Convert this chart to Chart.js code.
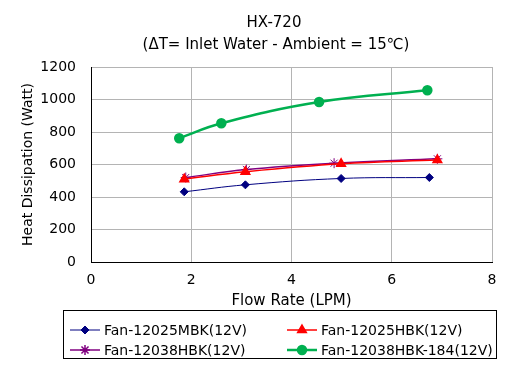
<!doctype html>
<html lang="en">
  <head>
    <meta charset="UTF-8" />
    <title>HX-720</title>
    <script src="https://cdn.jsdelivr.net/npm/chart.js"></script>
    <style>
      body {
        margin: 0;
        padding: 0;
        background: #fff;
      }
      #wrap {
        width: 507px;
        height: 365px;
      }
    </style>
  </head>
  <body>
    <div id="wrap"><canvas id="hxChart"></canvas></div>
    <script>
      // values
      const seriesNames = [
        "Fan-12025MBK(12V)",
        "Fan-12025HBK(12V)",
        "Fan-12038HBK(12V)",
        "Fan-12038HBK-184(12V)",
      ];
      const mbkFlow = [1.86, 3.08, 4.99, 6.75];
      const mbkHeat = [432, 475, 514, 520];
      const hbkFlow = [1.86, 3.08, 4.99, 6.91];
      const hbkHeat = [510, 555, 604, 627];
      const hbk38Flow = [1.89, 3.1, 4.85, 6.91];
      const hbk38Heat = [520, 569, 608, 635];
      const hbk184Flow = [1.76, 2.6, 4.55, 6.71];
      const hbk184Heat = [762, 854, 985, 1057];
      const xTicks = [0, 2, 4, 6, 8];
      const yTicks = [0, 200, 400, 600, 800, 1000, 1200];
      const titleLines = ["HX-720", "(ΔT= Inlet Water - Ambient = 15℃)"];

      const FONT = "'DejaVu Sans', sans-serif";

      function pts(xs, ys) {
        return xs.map((x, i) => ({ x: x, y: ys[i] }));
      }

      // title sits a little right of the canvas centre in the original
      const offTitle = {
        id: "offTitle",
        afterDraw(chart) {
          const ctx = chart.ctx;
          ctx.save();
          ctx.font = "15px " + FONT;
          ctx.fillStyle = "#000";
          ctx.textAlign = "center";
          ctx.textBaseline = "middle";
          ctx.fillText(titleLines[0], 274, 23);
          ctx.fillText(titleLines[1], 276, 45);
          ctx.restore();
        },
      };

      // boxed two-column legend like the original
      const boxLegend = {
        id: "boxLegend",
        afterDraw(chart) {
          const ctx = chart.ctx;
          ctx.save();
          ctx.strokeStyle = "#000";
          ctx.lineWidth = 1;
          ctx.strokeRect(63.5, 310.5, 433, 48);
          ctx.font = "14px " + FONT;
          ctx.textBaseline = "middle";
          ctx.fillStyle = "#000";
          const cols = [70, 287];
          const rows = [330, 350];
          chart.data.datasets.forEach((ds, i) => {
            const x = cols[i % 2];
            const y = rows[Math.floor(i / 2)];
            ctx.strokeStyle = ds.borderColor;
            ctx.lineWidth = ds.borderWidth;
            ctx.beginPath();
            ctx.moveTo(x, y);
            ctx.lineTo(x + 30, y);
            ctx.stroke();
            ctx.fillStyle = ds.pointBackgroundColor;
            ctx.strokeStyle = ds.pointBorderColor;
            Chart.helpers.drawPoint(
              ctx,
              {
                pointStyle: ds.pointStyle,
                radius: ds.pointRadius,
                rotation: 0,
                borderWidth: 1,
              },
              x + 15,
              y,
            );
            ctx.fillStyle = "#000";
            ctx.fillText(ds.label, x + 34, y + 1);
          });
          ctx.restore();
        },
      };

      const ctx = document.getElementById("hxChart").getContext("2d");
      new Chart(ctx, {
        type: "line",
        data: {
          datasets: [
            {
              label: seriesNames[0],
              data: pts(mbkFlow, mbkHeat),
              borderColor: "#000080",
              borderWidth: 1,
              pointStyle: "rectRot",
              pointRadius: 4,
              pointBackgroundColor: "#000080",
              pointBorderColor: "#000080",
              tension: 0.4,
            },
            {
              label: seriesNames[1],
              data: pts(hbkFlow, hbkHeat),
              borderColor: "#ff0000",
              borderWidth: 1.5,
              pointStyle: "triangle",
              pointRadius: 5,
              pointBackgroundColor: "#ff0000",
              pointBorderColor: "#ff0000",
              tension: 0.4,
            },
            {
              label: seriesNames[2],
              data: pts(hbk38Flow, hbk38Heat),
              borderColor: "#800080",
              borderWidth: 1.5,
              pointStyle: "star",
              pointRadius: 5,
              pointBackgroundColor: "#800080",
              pointBorderColor: "#800080",
              pointBorderWidth: 1,
              tension: 0.4,
            },
            {
              label: seriesNames[3],
              data: pts(hbk184Flow, hbk184Heat),
              borderColor: "#00b050",
              borderWidth: 2.5,
              pointStyle: "circle",
              pointRadius: 4,
              pointBackgroundColor: "#00b050",
              pointBorderColor: "#00b050",
              tension: 0.4,
            },
          ],
        },
        options: {
          responsive: true,
          maintainAspectRatio: false,
          animation: false,
          layout: { padding: { left: 0, right: 15, top: 67, bottom: 55 } },
          plugins: {
            legend: { display: false },
            tooltip: { enabled: false },
            title: { display: false },
          },
          scales: {
            x: {
              type: "linear",
              min: 0,
              max: 8,
              afterBuildTicks: (s) => {
                s.ticks = xTicks.map((v) => ({ value: v }));
              },
              ticks: { color: "#000", font: { family: FONT, size: 14 }, padding: 10 },
              grid: { color: "#b4b4b4", drawTicks: false },
              border: { color: "#000" },
              title: {
                display: true,
                text: "Flow Rate (LPM)",
                color: "#000",
                font: { family: FONT, size: 15 },
                padding: { top: 3, bottom: 0 },
              },
              afterFit: (s) => {
                s.height = 48;
              },
            },
            y: {
              min: 0,
              max: 1200,
              afterBuildTicks: (s) => {
                s.ticks = yTicks.map((v) => ({ value: v }));
              },
              ticks: {
                color: "#000",
                font: { family: FONT, size: 14 },
                padding: 15,
                callback: (v) => String(v),
              },
              grid: { color: "#b4b4b4", drawTicks: false },
              border: { color: "#000" },
              title: {
                display: true,
                text: "Heat Dissipation (Watt)",
                color: "#000",
                font: { family: FONT, size: 14 },
                padding: { top: 20, bottom: 0 },
              },
              afterFit: (s) => {
                s.width = 91;
              },
            },
          },
        },
        plugins: [offTitle, boxLegend],
      });
    </script>
  </body>
</html>
